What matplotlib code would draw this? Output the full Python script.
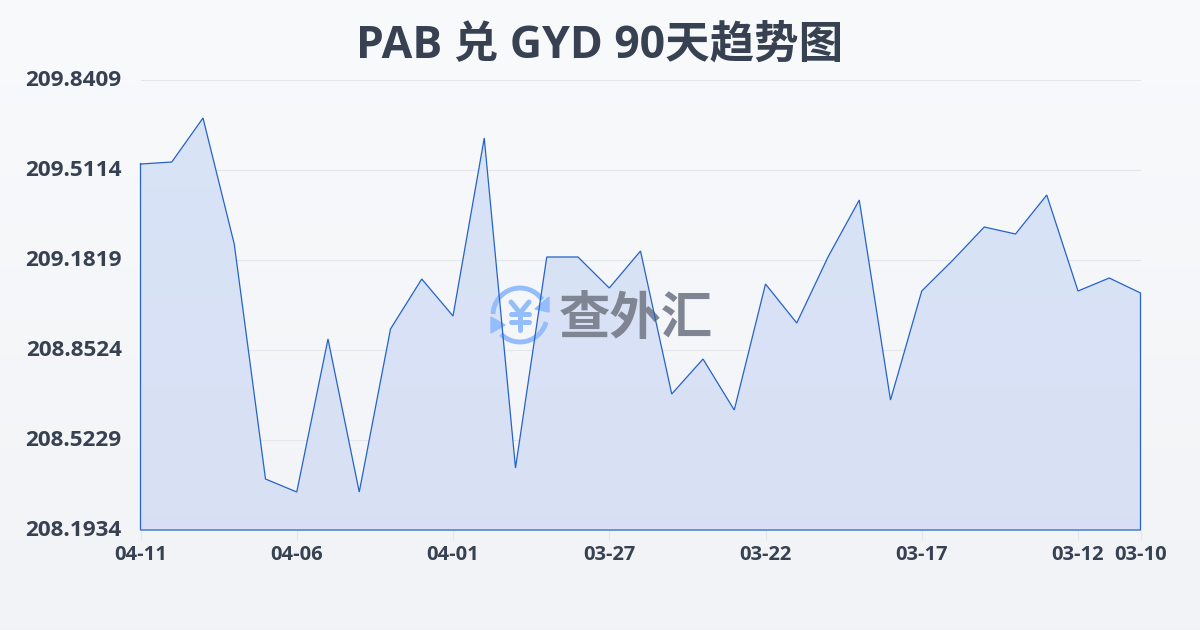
import numpy as np
import matplotlib
matplotlib.use("Agg")
import matplotlib.pyplot as plt
from matplotlib.patches import Arc, Polygon
from matplotlib.transforms import ScaledTranslation

plt.rcParams['font.family'] = ['Open Sans', 'Noto Sans CJK SC', 'DejaVu Sans']

# newest first, the axis runs backwards in time
rates = [209.5333, 209.5406, 209.7017, 209.2404, 208.3801, 208.3325, 208.8927,
         208.3325, 208.9293, 209.1123, 208.9769, 209.6285, 208.4204, 209.1929,
         209.1929, 209.0794, 209.2148, 208.6913, 208.8194, 208.6327, 209.0940,
         208.9512, 209.1929, 209.4015, 208.6693, 209.0684, 209.1819, 209.3027,
         209.2771, 209.4198, 209.0684, 209.1160, 209.0611]
xtick_pos = [0, 5, 10, 15, 20, 25, 30, 32]
xtick_labels = ["04-11", "04-06", "04-01", "03-27", "03-22", "03-17", "03-12", "03-10"]
ytick_vals = [208.1934, 208.5229, 208.8524, 209.1819, 209.5114, 209.8409]
ytick_labels = ["208.1934", "208.5229", "208.8524", "209.1819", "209.5114", "209.8409"]

ink = "#374151"
line_col = "#2563c9"

fig = plt.figure(figsize=(12, 6.3), dpi=100)

# page background gradient
bg = fig.add_axes([0, 0, 1, 1], zorder=0)
bg.axis("off")
grad = np.linspace(0, 1, 256).reshape(-1, 1, 1)
top = np.array([0.973, 0.980, 0.988]).reshape(1, 1, 3)
bot = np.array([0.945, 0.953, 0.965]).reshape(1, 1, 3)
bg.imshow(top + (bot - top) * grad, aspect="auto", extent=[0, 1, 0, 1])

ax = fig.add_axes([140.5 / 1200, 100 / 630, 1000 / 1200, 450 / 630], zorder=1)
ax.patch.set_alpha(0)
x = np.arange(len(rates))
ymin, ymax = ytick_vals[0], ytick_vals[-1]

ax.set_yticks(ytick_vals)
ax.set_yticklabels(ytick_labels)
ax.set_xticks(xtick_pos)
ax.set_xticklabels(xtick_labels)
ax.grid(axis="y", color="#e3e6eb", lw=0.8)
ax.set_axisbelow(True)
for s in ax.spines.values():
    s.set_visible(False)
ax.tick_params(axis="y", length=0, pad=13.5, labelsize=16.2, labelcolor=ink)
ax.tick_params(axis="x", length=7, width=0.8, color="#e3e6eb", pad=3.5, labelsize=14.5, labelcolor=ink)
for t in ax.get_yticklabels() + ax.get_xticklabels():
    t.set_fontweight("bold")
# y labels sit a little above their gridlines
nudge = ScaledTranslation(0, 1.5 / 72, fig.dpi_scale_trans)
for t in ax.get_yticklabels():
    t.set_transform(t.get_transform() + nudge)

# area fill, vertical gradient clipped to the series polygon
verts = list(zip(x, rates)) + [(x[-1], ymin), (0, ymin)]
clip = Polygon(verts, closed=True, transform=ax.transData, fc="none", ec="none")
ax.add_patch(clip)
g = np.linspace(0, 1, 256).reshape(-1, 1, 1)
c_top = np.array([0.847, 0.894, 0.969]).reshape(1, 1, 3)
c_bot = np.array([0.851, 0.878, 0.957]).reshape(1, 1, 3)
im = ax.imshow(c_top + (c_bot - c_top) * g, aspect="auto", zorder=1.5,
               extent=[0, len(rates) - 1, ymin, ymax])
im.set_clip_path(clip)
ax.set_xlim(0, len(rates) - 1)
ax.set_ylim(ymin, ymax)

# watermark in page pixels
wm = fig.add_axes([0, 0, 1, 1], zorder=2)
wm.axis("off")
wm.patch.set_alpha(0)
wm.set_xlim(0, 1200)
wm.set_ylim(630, 0)
blue = "#93bdfb"
cx, cy = 520, 315
wm.add_patch(Arc((cx, cy), 54, 54, theta1=182, theta2=325, color=blue, lw=3.5))
wm.add_patch(Arc((cx, cy), 54, 54, theta1=15, theta2=135, color=blue, lw=3.5))
wm.add_patch(Polygon([(549, 297), (549, 312), (535, 309)], closed=True, fc=blue, ec=blue))
wm.add_patch(Polygon([(491, 317), (491, 333), (505, 325)], closed=True, fc=blue, ec=blue))
# yen sign of the logo, stroked with round ends
for xs, ys in [([511, 520, 529], [302, 313, 302]), ([520, 520], [313, 330]),
               ([511, 529], [314, 314]), ([511, 529], [322, 322])]:
    wm.plot(xs, ys, color=blue, lw=3.6, solid_capstyle="round", solid_joinstyle="round")
wm.text(636, 318.5, "查外汇", color="#7f8592", fontsize=37, fontweight="bold", ha="center", va="center",
        family=["Noto Sans CJK SC"])
wm.set_xlim(0, 1200)
wm.set_ylim(630, 0)

# series outline goes over the watermark, closed along the base like the area
ov = fig.add_axes(ax.get_position(), zorder=3)
ov.axis("off")
ov.patch.set_alpha(0)
ov.set_xlim(0, len(rates) - 1)
ov.set_ylim(ymin, ymax)
ov.plot(list(x) + [x[-1], 0, 0], rates + [ymin, ymin, rates[0]], color=line_col, lw=0.9,
        clip_on=False, solid_joinstyle="miter")

fig.text(0.5, 1 - 46 / 630, "PAB 兑 GYD 90天趋势图", color=ink, fontsize=32, fontweight="bold",
         ha="center", va="center", zorder=5)

fig.savefig("out.png", dpi=100)
